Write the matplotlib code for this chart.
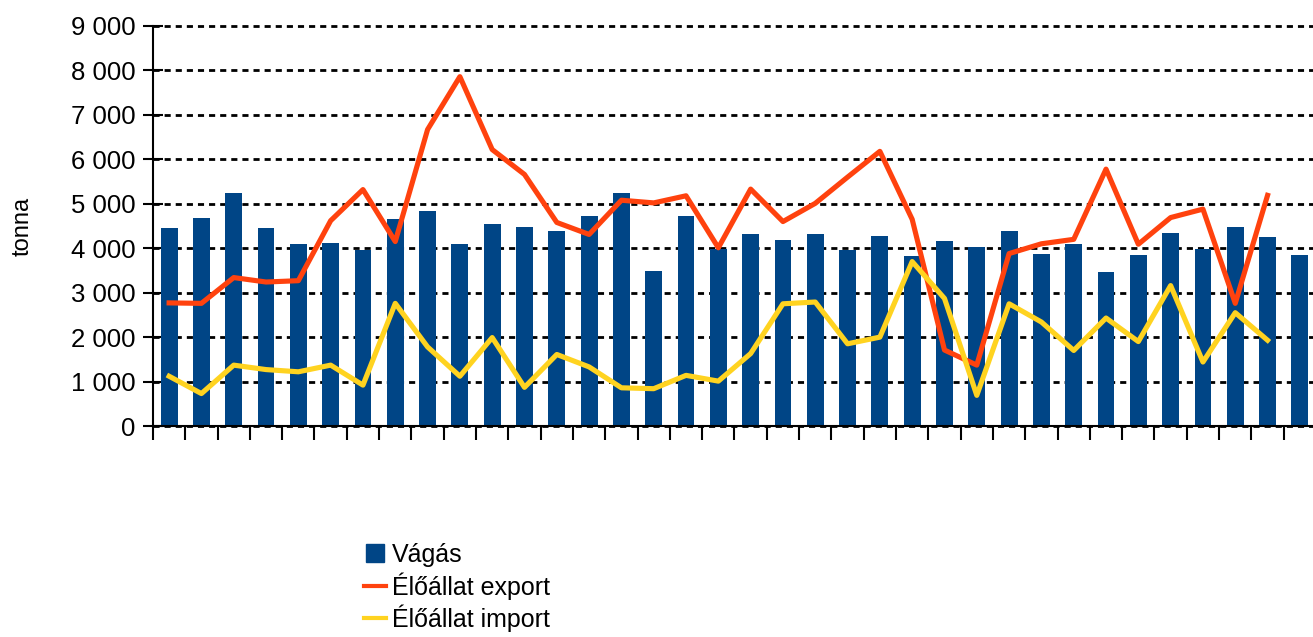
import numpy as np
import matplotlib
matplotlib.use("Agg")
import matplotlib.pyplot as plt
from matplotlib.lines import Line2D

# ── Data (tonna) ──────────────────────────────────────────────────────────────
vagas = [4450, 4680, 5240, 4450, 4090, 4110, 3960, 4650, 4830, 4090,
         4540, 4470, 4380, 4720, 5240, 3480, 4720, 3980, 4310, 4180,
         4310, 3960, 4270, 3820, 4160, 4020, 4380, 3870, 4090, 3460,
         3840, 4340, 3980, 4470, 4250, 3840]
export = [2770, 2760, 3340, 3240, 3270, 4620, 5320, 4150, 6670, 7860,
          6220, 5660, 4580, 4310, 5080, 5020, 5180, 4010, 5330, 4600,
          5010, 5600, 6180, 4650, 1710, 1370, 3880, 4100, 4200, 5780,
          4090, 4690, 4880, 2760, 5190]
importv = [1120, 730, 1370, 1270, 1220, 1370, 920, 2760, 1780, 1120,
           1990, 870, 1610, 1330, 860, 840, 1140, 1010, 1630, 2750,
           2790, 1850, 2000, 3700, 2870, 690, 2750, 2340, 1700, 2430,
           1900, 3160, 1440, 2550, 1930]
yticks = list(range(0, 9001, 1000))
ytick_labels = [f"{v:,}".replace(",", " ") for v in yticks]

BLUE = "#004586"
RED = "#ff420e"
YELLOW = "#ffd320"

plt.rcParams["font.family"] = ["Liberation Sans", "DejaVu Sans"]

fig = plt.figure(figsize=(13.13, 6.37), dpi=100)
ax = fig.add_axes([0.1165, 0.3312, 0.8858, 0.628])

x = np.arange(len(vagas))
ax.bar(x, vagas, width=0.52, color=BLUE, zorder=2)
xl = np.arange(len(export))
ax.plot(xl, export, color=RED, lw=3.7, zorder=3)
ax.plot(xl, importv, color=YELLOW, lw=3.7, zorder=3)

ax.set_xlim(-0.5, len(vagas) - 0.5)
ax.set_ylim(0, 9000)
ax.set_yticks(yticks)
ax.set_yticklabels(ytick_labels, fontsize=18.5)
ax.set_xticks(np.arange(-0.5, len(vagas), 1.0))
ax.set_xticklabels([])
ax.tick_params(axis="x", direction="out", length=10, width=1.5, color="black")
ax.tick_params(axis="y", direction="inout", length=15, width=1.5,
               color="black", pad=5)

ax.yaxis.grid(True, color="black", ls=(0, (2.2, 1.8)), lw=2, zorder=1)
for gl in ax.get_ygridlines():
    gl.set_clip_on(False)
ax.set_axisbelow(True)
for s in ["top", "right"]:
    ax.spines[s].set_visible(False)
ax.spines["left"].set_linewidth(1.5)
ax.spines["bottom"].set_linewidth(1.5)

fig.text(0.017, 0.645, "tonna", rotation=90,
         fontsize=17, ha="center", va="center")

handles = [
    Line2D([], [], marker="s", color="none", markerfacecolor=BLUE,
           markeredgecolor=BLUE, markersize=13),
    Line2D([], [], color=RED, lw=3),
    Line2D([], [], color=YELLOW, lw=3),
]
labels = ["Vágás", "Élőállat export", "Élőállat import"]
fig.legend(handles, labels, loc="upper left", bbox_to_anchor=(0.268, 0.167),
           frameon=False, fontsize=18, handlelength=0.85, handletextpad=0.25,
           labelspacing=0.2, borderpad=0, bbox_transform=fig.transFigure)

fig.savefig("out.png", dpi=100)
